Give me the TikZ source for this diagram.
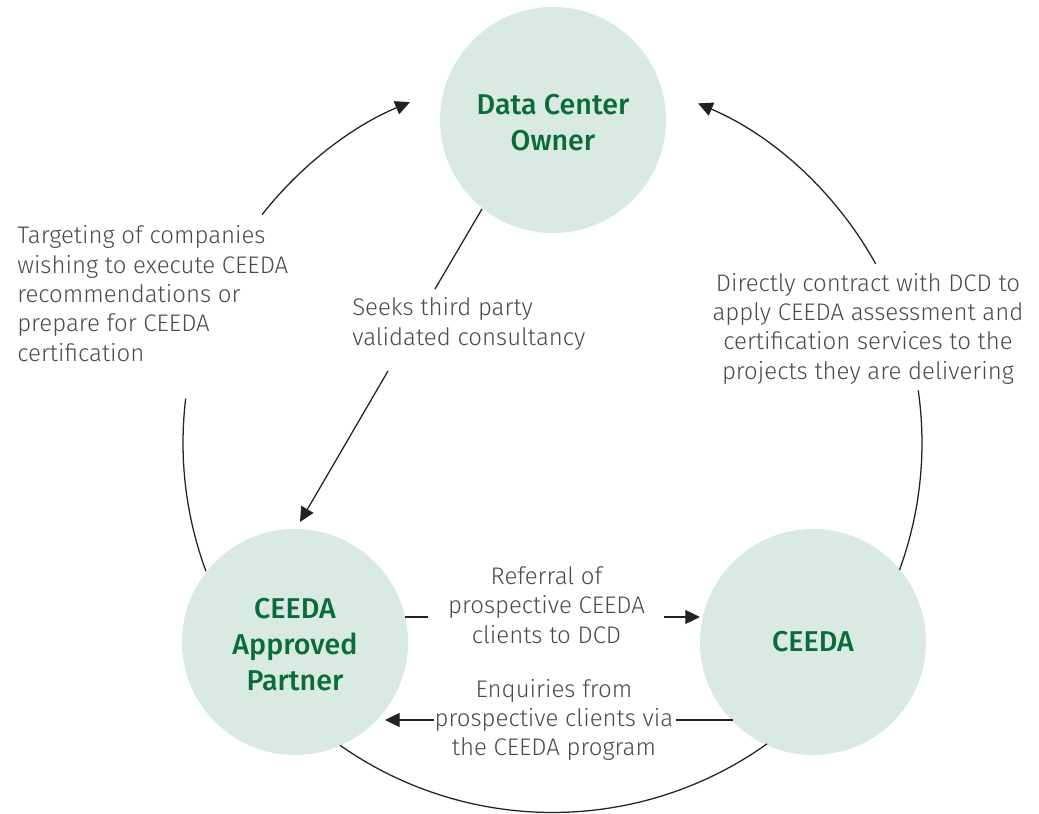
\documentclass[tikz,border=0pt]{standalone}
\usepackage{fontspec}
\setmainfont{Fira Sans}[UprightFont=* Light, BoldFont=* Medium]
\usetikzlibrary{arrows.meta}
\definecolor{mint}{HTML}{D9EAE3}
\definecolor{dgreen}{HTML}{0B6B3A}
\definecolor{tgrey}{HTML}{4A4A4A}
\definecolor{lnk}{HTML}{222222}
\newcommand{\firstline}{\rule{0pt}{19.5pt}}
\begin{document}
\begin{tikzpicture}[x=0.75pt,y=0.75pt,
  party/.style={circle, fill=mint, minimum size=169.5pt, inner sep=0pt, text=dgreen,
    font=\fontsize{21.5}{27}\selectfont\bfseries, align=center},
  lbl/.style={text=tgrey, font=\fontsize{18}{22}\selectfont, inner sep=0pt},
  conn/.style={draw=lnk, line width=0.95pt},
  tipped/.style={-{Triangle[length=11pt,width=10.5pt]}}
]
\useasboundingbox (0,0) rectangle (1039,814);

% parties
\node[party] (dco) at (553,694) {\firstline Data Center\\Owner};
\node[party] (cap) at (295,172) {\firstline CEEDA\\Approved\\Partner};
\node[party] (ceeda) at (813,172) {CEEDA};

% big cycle
\coordinate (C) at (552.5,371);
\draw[conn,tipped] ([shift={(141.8:369.5)}]C) arc[start angle=141.8, end angle=112.7, radius=369.5];
\draw[conn,tipped] ([shift={(29.0:369.5)}]C) arc[start angle=29.0, end angle=66.8, radius=369.5];
\draw[conn] ([shift={(173.1:369.5)}]C) arc[start angle=173.1, end angle=200.3, radius=369.5];
\draw[conn] ([shift={(8.2:369.5)}]C) arc[start angle=8.2, end angle=-20.1, radius=369.5];
\draw[conn] ([shift={(234.9:369.5)}]C) arc[start angle=234.9, end angle=305.5, radius=369.5];

% labels
\node[lbl, align=left] (tgt) at (17,520.5) [anchor=west] {Targeting of companies\\wishing to execute CEEDA\\recommendations or\\prepare for CEEDA\\certification};
\node[lbl, align=left] (seek) at (352,490) [anchor=west] {Seeks third party\\validated consultancy};
\node[lbl, align=center] (dir) at (868,485.5) {Directly contract with DCD to\\apply CEEDA assessment and\\certification services to the\\projects they are delivering};
\node[lbl, align=center] (ref) at (546.5,209) {Referral of\\prospective CEEDA\\clients to DCD};
\node[lbl, align=center] (enq) at (554,94) {Enquiries from\\prospective clients via\\the CEEDA program};

% DCO -> partner
\coordinate (s1) at (482,605);
\coordinate (s2) at (435,525);
\coordinate (s3) at (388,443);
\coordinate (s4) at (300,292);
\draw[conn] (s1) -- (s2);
\draw[conn,tipped] (s3) -- (s4);

% referral
\coordinate (r1) at (405,197);
\coordinate (r2) at (428,197);
\coordinate (r3) at (664,197);
\coordinate (r4) at (700,197);
\draw[conn] (r1) -- (r2);
\draw[conn,tipped] (r3) -- (r4);

% enquiries
\coordinate (e1) at (733,94);
\coordinate (e2) at (676,94);
\coordinate (e3) at (434,94);
\coordinate (e4) at (385,94);
\draw[conn] (e1) -- (e2);
\draw[conn,tipped] (e3) -- (e4);
\end{tikzpicture}
\end{document}
